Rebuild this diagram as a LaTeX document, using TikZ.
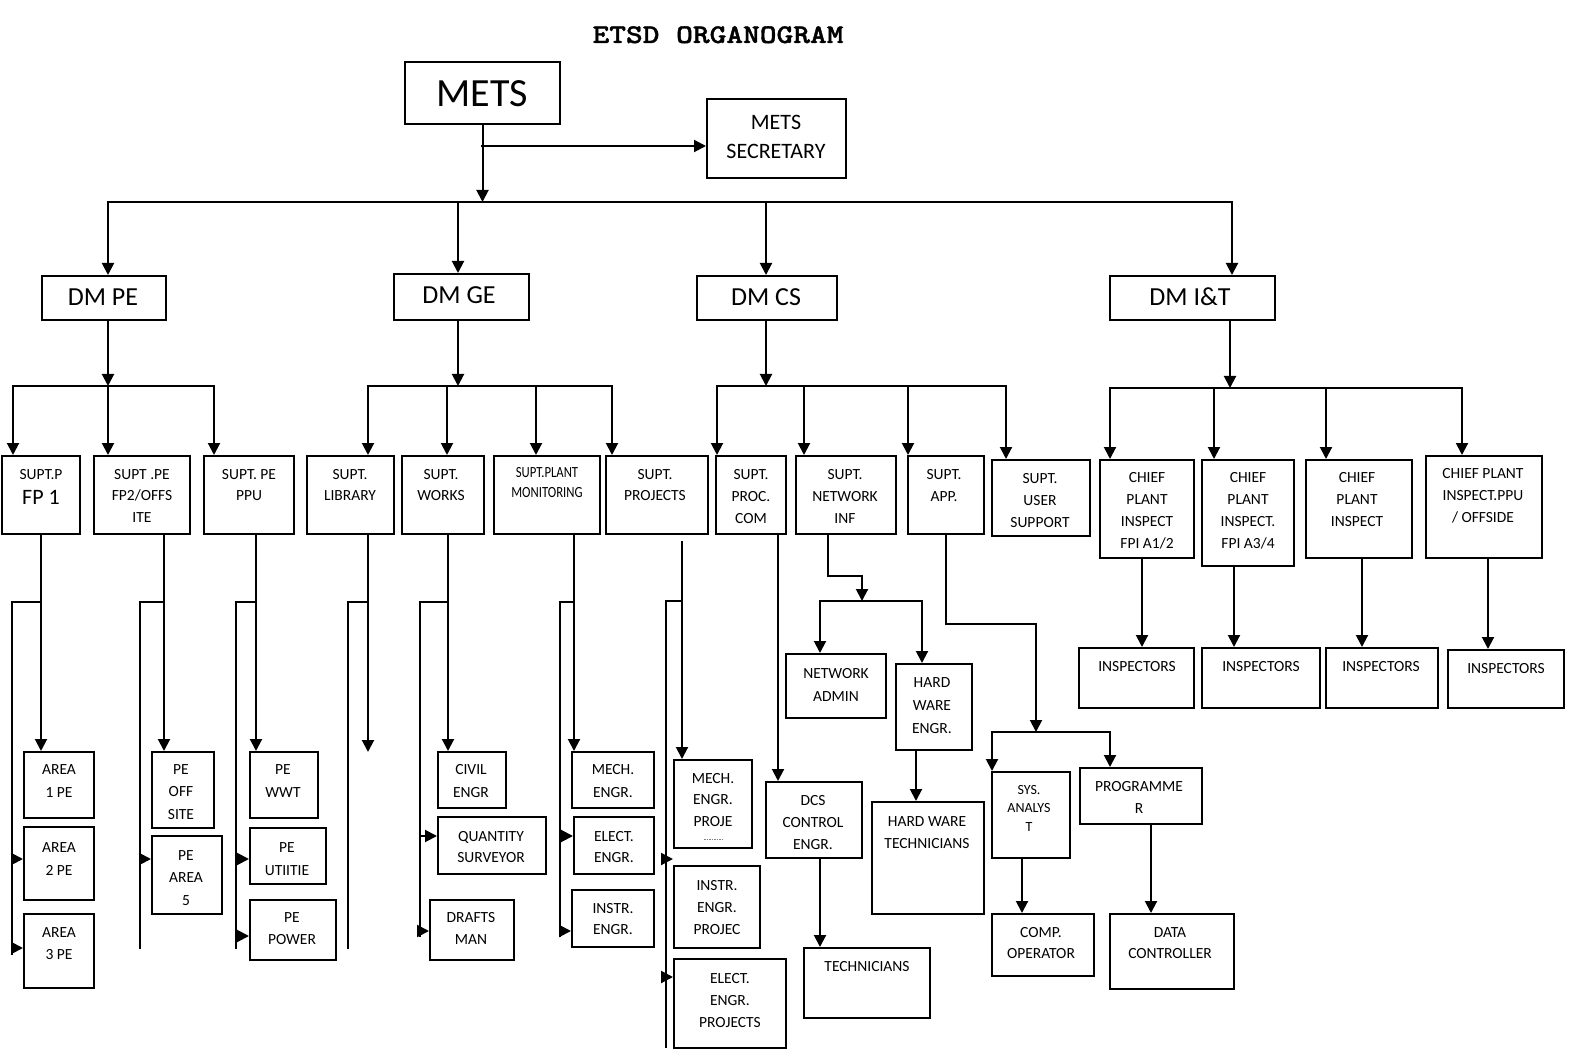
\documentclass[tikz,border=0pt]{standalone}
\usepackage{fontspec}
\setmainfont{Carlito}
\newfontfamily\titlefont{lmmonolt10-bold.otf}[FakeBold=1.2]
\usetikzlibrary{arrows.meta}
\newcommand\bx[5]{\node[box, minimum width={#4-#2}, minimum height={#5-#3}] (#1) at ({(#2+#4)/2},{(#3+#5)/2}) {};}
\newcommand\tl[6][lbl]{\foreach \lbltxt [count=\lblnum] in {#6}{\node[#1] (#2-\lblnum) at ({#3},{#4+(\lblnum-1)*(#5)}) {\lbltxt};}}
\begin{document}
\begin{tikzpicture}[x=1pt,y=-1pt,
  box/.style={draw, line width=2pt, inner sep=0pt, rectangle},
  ln/.style={line width=2pt, line cap=rect},
  arr/.style={line width=2pt, line cap=rect, -{Triangle[length=12pt,width=12pt]}},
  lbl/.style={anchor=base, inner sep=0pt, font=\fontsize{15.5}{18}\selectfont},
  lbls/.style={lbl, font=\fontsize{14}{16}\selectfont},
  big/.style={lbl, font=\fontsize{22}{24}\selectfont},
  dm/.style={lbl, font=\fontsize{26}{28}\selectfont}]
\fill[white] (0,0) rectangle (1574,1064);
\useasboundingbox (0,0) rectangle (1574,1064);

% title
\node[anchor=base, inner sep=0pt, font=\titlefont\fontsize{27}{30}\selectfont] (title) at (718,43) {\scalebox{1.18}[1]{ETSD ORGANOGRAM}};

% top
\bx{mets}{405}{62}{560}{124}
\node[lbl, font=\fontsize{40}{44}\selectfont] (metst) at (482,107) {METS};
\bx{sec}{707}{99}{846}{178}
\tl[big]{sect}{776}{130}{29}{METS,SECRETARY}

\coordinate (bus0) at (108,202);
\coordinate (bus0e) at (1232,202);
\coordinate (d2) at (458,202);
\coordinate (d3) at (766,202);
\coordinate (msec) at (482,146);
\draw[ln] (bus0) -- (bus0e);
\draw[arr] (mets.south) -- (mets.south |- bus0);
\draw[arr] (msec) -- (msec -| sec.west);

% DM boxes
\bx{dmpe}{42}{276}{166}{320}
\node[dm] (dmpet) at (103,306) {DM PE};
\bx{dmge}{394}{274}{529}{320}
\node[dm] (dmget) at (459,304) {DM GE};
\bx{dmcs}{697}{276}{837}{320}
\node[dm] (dmcst) at (766,306) {DM CS};
\bx{dmit}{1110}{276}{1275}{320}
\node[dm] (dmitt) at (1190,306) {DM I\&T};

\draw[arr] (bus0) -- (bus0 |- dmpe.north);
\draw[arr] (d2) -- (d2 |- dmge.north);
\draw[arr] (d3) -- (d3 |- dmcs.north);
\draw[arr] (bus0e) -- (bus0e |- dmit.north);

% level 3 boxes
\bx{fp1}{2}{456}{80}{534}
\node[lbl] (fp1a) at (41,479) {SUPT.P};
\node[big] (fp1b) at (41,504) {FP 1};
\bx{fp2}{94}{456}{190}{534}
\tl{fp2t}{142}{479}{21.5}{SUPT .PE,FP2/OFFS,ITE}
\bx{ppu}{204}{456}{294}{534}
\tl{ppt}{249}{479}{21.5}{SUPT. PE,PPU}
\bx{lib}{307}{456}{394}{534}
\tl{libt}{350}{479}{21.5}{SUPT.,LIBRARY}
\bx{wk}{402}{456}{484}{534}
\tl{wkt}{441}{479}{21.5}{SUPT.,WORKS}
\bx{pm}{494}{456}{600}{534}
\tl{pmt}{547}{477}{20}{\scalebox{0.82}[1]{SUPT.PLANT},\scalebox{0.82}[1]{MONITORING}}
\bx{pj}{606}{456}{708}{534}
\tl{pjt}{655}{479}{21.5}{SUPT.,PROJECTS}
\bx{pc}{716}{456}{786}{534}
\tl{pct}{751}{479}{22}{SUPT.,PROC.,COM}
\bx{nt}{796}{456}{896}{534}
\tl{ntt}{845}{479}{22}{SUPT.,NETWORK,INF}
\bx{ap}{908}{456}{984}{534}
\tl{apt}{944}{479}{22}{SUPT.,APP.}
\bx{us}{992}{460}{1090}{536}
\tl{ust}{1040}{483}{22}{SUPT.,USER,SUPPORT}
\bx{c1}{1100}{460}{1194}{558}
\tl{c1t}{1147}{482}{22.3}{CHIEF,PLANT,INSPECT,FPI A1/2}
\bx{c2}{1202}{460}{1294}{566}
\tl{c2t}{1248}{482}{22.3}{CHIEF,PLANT,INSPECT.,FPI A3/4}
\bx{c3}{1306}{460}{1412}{558}
\tl{c3t}{1357}{482}{22.3}{CHIEF,PLANT,INSPECT}
\bx{c4}{1426}{456}{1542}{558}
\tl{c4t}{1483}{478}{22.3}{CHIEF PLANT,INSPECT.PPU,/ OFFSIDE}

% level 2 buses
\coordinate (peL) at (13,386); \coordinate (peM) at (108,386); \coordinate (peR) at (214,386);
\draw[arr] (dmpe.south -| peM) -- (peM);
\draw[ln] (peL) -- (peR);
\draw[arr] (peL) -- (peL |- fp1.north);
\draw[arr] (peM) -- (peM |- fp2.north);
\draw[arr] (peR) -- (peR |- ppu.north);

\coordinate (geL) at (368,386); \coordinate (geM) at (458,386); \coordinate (geR) at (612,386);
\coordinate (ge2) at (447,386); \coordinate (ge3) at (536,386);
\draw[arr] (dmge.south -| geM) -- (geM);
\draw[ln] (geL) -- (geR);
\draw[arr] (geL) -- (geL |- lib.north);
\draw[arr] (ge2) -- (ge2 |- wk.north);
\draw[arr] (ge3) -- (ge3 |- pm.north);
\draw[arr] (geR) -- (geR |- pj.north);

\coordinate (csL) at (717,386); \coordinate (csM) at (766,386); \coordinate (csR) at (1006,386);
\coordinate (cs2) at (804,386); \coordinate (cs3) at (908,386);
\draw[arr] (dmcs.south -| csM) -- (csM);
\draw[ln] (csL) -- (csR);
\draw[arr] (csL) -- (csL |- pc.north);
\draw[arr] (cs2) -- (cs2 |- nt.north);
\draw[arr] (cs3) -- (cs3 |- ap.north);
\draw[arr] (csR) -- (csR |- us.north);

\coordinate (itL) at (1110,388); \coordinate (itM) at (1230,388); \coordinate (itR) at (1462,388);
\coordinate (it2) at (1214,388); \coordinate (it3) at (1326,388);
\draw[arr] (dmit.south -| itM) -- (itM);
\draw[ln] (itL) -- (itR);
\draw[arr] (itL) -- (itL |- c1.north);
\draw[arr] (it2) -- (it2 |- c2.north);
\draw[arr] (it3) -- (it3 |- c3.north);
\draw[arr] (itR) -- (itR |- c4.north);

% PE group
\bx{a1}{24}{752}{94}{818}
\tl{a1t}{59}{774}{23}{AREA,1 PE}
\bx{a2}{24}{827}{94}{900}
\tl{a2t}{59}{852}{23}{AREA,2 PE}
\bx{a3}{24}{914}{94}{988}
\tl{a3t}{59}{937}{22}{AREA,3 PE}
\draw[arr] (fp1.south) -- (fp1.south |- a1.north);
\coordinate (f1b) at (41,602); \coordinate (f1v) at (12,602); \coordinate (f1e) at (12,954);
\draw[ln] (f1b) -- (f1v) -- (f1e);
\coordinate (f1s2) at (12,859); \coordinate (f1s3) at (12,948);
\draw[arr] (f1s2) -- (f1s2 -| a2.west);
\draw[arr] (f1s3) -- (f1s3 -| a3.west);

\bx{pos}{152}{752}{214}{828}
\tl{post}{181}{774}{22.5}{PE,OFF,SITE}
\bx{pa5}{152}{836}{222}{914}
\tl{pa5t}{186}{860}{22.5}{PE,AREA,5}
\coordinate (f2d) at (164,534); \coordinate (f2b) at (164,602);
\coordinate (f2v) at (140,602); \coordinate (f2e) at (140,948);
\coordinate (f2s) at (140,859);
\draw[arr] (fp2.south -| f2d) -- (f2d |- pos.north);
\draw[ln] (f2b) -- (f2v) -- (f2e);
\draw[arr] (f2s) -- (f2s -| pa5.west);

\bx{wwt}{250}{752}{318}{818}
\tl{wwtt}{283}{774}{23}{PE,WWT}
\bx{utl}{250}{828}{326}{884}
\tl{utlt}{287}{852}{23}{PE,UTIITIE}
\bx{pow}{250}{900}{336}{960}
\tl{powt}{292}{922}{22}{PE,POWER}
\coordinate (ppd) at (256,534); \coordinate (ppb) at (256,602);
\coordinate (ppv) at (236,602); \coordinate (ppe) at (236,948);
\coordinate (pps2) at (236,859); \coordinate (pps3) at (236,936);
\draw[arr] (ppu.south -| ppd) -- (ppd |- wwt.north);
\draw[ln] (ppb) -- (ppv) -- (ppe);
\draw[arr] (pps2) -- (pps2 -| utl.west);
\draw[arr] (pps3) -- (pps3 -| pow.west);

% GE group
\coordinate (lbd) at (368,534); \coordinate (lbe) at (368,752);
\coordinate (lbb) at (368,602); \coordinate (lbv) at (348,602); \coordinate (lbz) at (348,948);
\draw[arr] (lib.south -| lbd) -- (lbe);
\draw[ln] (lbb) -- (lbv) -- (lbz);

\bx{civ}{438}{752}{506}{808}
\tl{civt}{471}{774}{23}{CIVIL,ENGR}
\bx{qs}{438}{817}{546}{874}
\tl{qst}{491}{841}{21}{QUANTITY,SURVEYOR}
\bx{drm}{430}{900}{514}{960}
\tl{drmt}{471}{922}{22}{DRAFTS,MAN}
\coordinate (wkd) at (448,534); \coordinate (wkb) at (448,602);
\coordinate (wkv) at (420,602); \coordinate (wke) at (420,936);
\coordinate (wks2) at (420,836); \coordinate (wks3) at (420,931);
\draw[arr] (wk.south -| wkd) -- (wkd |- civ.north);
\draw[ln] (wkb) -- (wkv) -- (wke);
\draw[arr] (wks2) -- (wks2 -| qs.west);
\draw[arr] (wks3) -- (wks3 -| drm.west);

\bx{mech}{572}{752}{654}{808}
\tl{mecht}{613}{774}{23}{MECH.,ENGR.}
\bx{el}{574}{817}{654}{874}
\tl{elt}{614}{841}{21}{ELECT.,ENGR.}
\bx{ins}{572}{890}{654}{947}
\tl{inst}{613}{913}{21}{INSTR.,ENGR.}
\coordinate (pmd) at (574,534); \coordinate (pmb) at (574,602);
\coordinate (pmv) at (560,602); \coordinate (pme) at (560,936);
\coordinate (pms2) at (560,836); \coordinate (pms3) at (560,931);
\draw[arr] (pm.south -| pmd) -- (pmd |- mech.north);
\draw[ln] (pmb) -- (pmv) -- (pme);
\draw[arr] (pms2) -- (pms2 -| el.west);
\draw[arr] (pms3) -- (pms3 -| ins.west);

\bx{mep}{674}{760}{752}{848}
\tl{mept}{713}{783}{21.5}{MECH.,ENGR.,PROJE}
\draw[gray, line width=0.7pt, dash pattern=on 1.5pt off 1pt] (mep.south -| 704,0) ++(0,-10) -- ++(19,0);
\bx{iep}{674}{866}{760}{948}
\tl{iept}{717}{890}{22}{INSTR.,ENGR.,PROJEC}
\bx{eep}{674}{959}{786}{1048}
\tl{eept}{730}{983}{22}{ELECT.,ENGR.,PROJECTS}
\coordinate (pjd) at (682,542); \coordinate (pjb) at (682,601);
\coordinate (pjv) at (666,601); \coordinate (pje) at (666,1047);
\coordinate (pjs2) at (666,859); \coordinate (pjs3) at (666,977);
\draw[arr] (pjd) -- (pjd |- mep.north);
\draw[ln] (pjb) -- (pjv) -- (pje);
\draw[arr] (pjs2) -- (pjs2 -| iep.west);
\draw[arr] (pjs3) -- (pjs3 -| eep.west);

% CS group
\bx{dcs}{766}{782}{862}{858}
\tl{dcst}{813}{805}{22}{DCS,CONTROL,ENGR.}
\bx{tech}{804}{948}{930}{1018}
\tl{techt}{867}{971}{22}{TECHNICIANS}
\coordinate (pcd) at (778,534); \coordinate (dcd) at (820,858);
\draw[arr] (pc.south -| pcd) -- (pcd |- dcs.north);
\draw[arr] (dcs.south -| dcd) -- (dcd |- tech.north);

\bx{na}{786}{654}{886}{718}
\tl{nat}{836}{678}{23}{NETWORK,ADMIN}
\bx{hwe}{896}{664}{972}{750}
\tl{hwet}{932}{687}{23}{HARD,WARE,ENGR.}
\bx{hwt}{872}{802}{984}{914}
\tl{hwtt}{927}{826}{22.5}{HARD WARE,TECHNICIANS}
\coordinate (ntd) at (828,534); \coordinate (ntj) at (862,601);
\coordinate (nbL) at (820,601); \coordinate (nbR) at (922,601);
\coordinate (hwd) at (916,750);
\draw[arr] (nt.south -| ntd) -- (828,576) -- (862,576) -- (ntj);
\draw[ln] (nbL) -- (nbR);
\draw[arr] (nbL) -- (nbL |- na.north);
\draw[arr] (nbR) -- (nbR |- hwe.north);
\draw[arr] (hwe.south -| hwd) -- (hwd |- hwt.north);

\bx{sys}{992}{772}{1070}{858}
\tl[lbls]{syst}{1029}{794}{18.5}{SYS.,ANALYS,T}
\bx{prog}{1080}{768}{1202}{824}
\tl{prgt}{1139}{791}{22}{PROGRAMME,R}
\bx{comp}{992}{914}{1094}{976}
\tl{compt}{1041}{937}{21}{COMP.,OPERATOR}
\bx{dc}{1110}{914}{1234}{989}
\tl{dct}{1170}{937}{21}{DATA,CONTROLLER}
\coordinate (apd) at (946,534); \coordinate (apj) at (1036,732);
\coordinate (abL) at (992,732); \coordinate (abR) at (1110,732);
\coordinate (syd) at (1022,858); \coordinate (prd) at (1151,824);
\draw[arr] (ap.south -| apd) -- (946,624) -- (1036,624) -- (apj);
\draw[ln] (abL) -- (abR);
\draw[arr] (abL) -- (abL |- sys.north);
\draw[arr] (abR) -- (abR |- prog.north);
\draw[arr] (sys.south -| syd) -- (syd |- comp.north);
\draw[arr] (prog.south -| prd) -- (prd |- dc.north);

% I&T group
\bx{i1}{1079}{648}{1194}{708}
\node[lbl] (i1t) at (1137,671) {INSPECTORS};
\bx{i2}{1202}{648}{1320}{708}
\node[lbl] (i2t) at (1261,671) {INSPECTORS};
\bx{i3}{1326}{648}{1438}{708}
\node[lbl] (i3t) at (1381,671) {INSPECTORS};
\bx{i4}{1448}{650}{1564}{708}
\node[lbl] (i4t) at (1506,673) {INSPECTORS};
\coordinate (c1d) at (1142,558); \coordinate (c2d) at (1234,566);
\coordinate (c3d) at (1362,558); \coordinate (c4d) at (1488,558);
\draw[arr] (c1.south -| c1d) -- (c1d |- i1.north);
\draw[arr] (c2.south -| c2d) -- (c2d |- i2.north);
\draw[arr] (c3.south -| c3d) -- (c3d |- i3.north);
\draw[arr] (c4.south -| c4d) -- (c4d |- i4.north);
\end{tikzpicture}
\end{document}
